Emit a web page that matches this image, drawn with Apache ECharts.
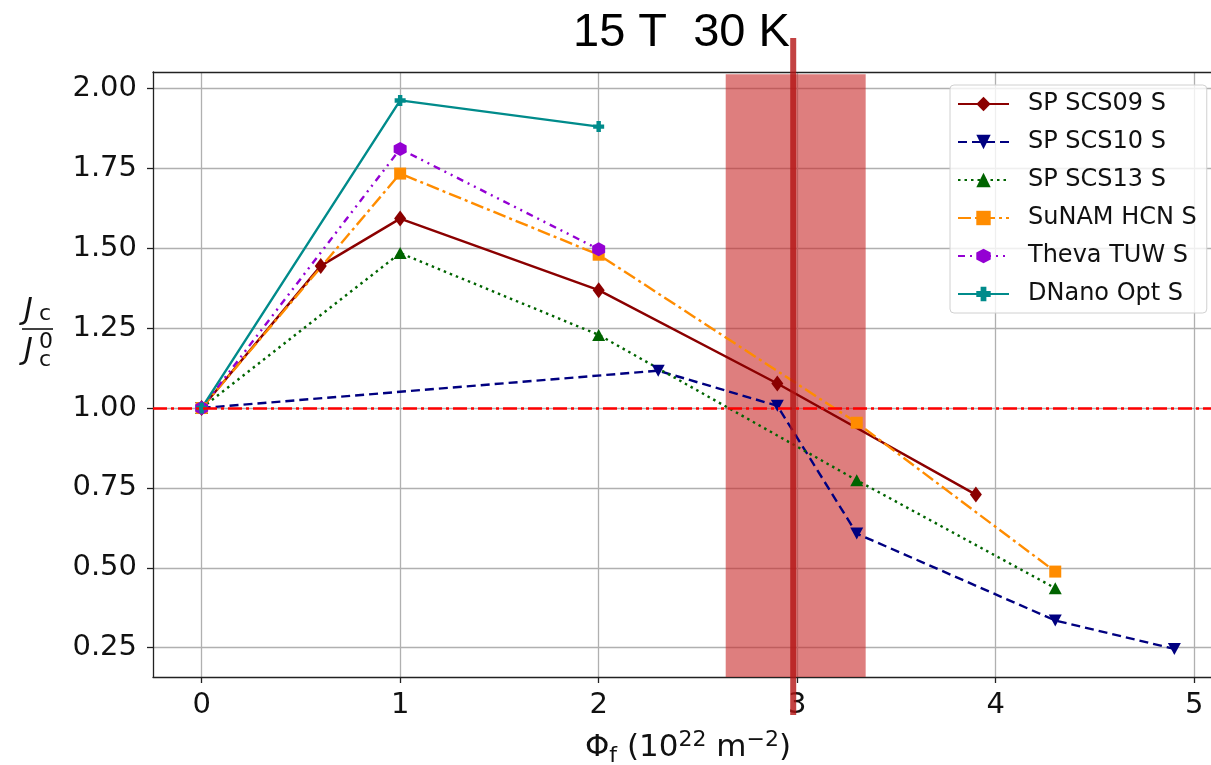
<!DOCTYPE html>
<html>
<head>
<meta charset="utf-8">
<script src="https://cdn.jsdelivr.net/npm/echarts@6/dist/echarts.min.js"></script>
<style>
  html, body { margin: 0; padding: 0; background: #fff; }
  #main { width: 1211px; height: 765px; }
</style>
</head>
<body>
<div id="main"></div>
<script>
// data
var scs09X = [0, 0.6, 1, 2, 2.9, 3.9];
var scs09Y = [1.00, 1.445, 1.593, 1.369, 1.077, 0.729];
var scs10X = [0, 2.3, 2.9, 3.3, 4.3, 4.9];
var scs10Y = [1.00, 1.117, 1.007, 0.607, 0.335, 0.246];
var scs13X = [0, 1, 2, 3.3, 4.3];
var scs13Y = [1.00, 1.485, 1.229, 0.774, 0.436];
var sunamX = [0, 1, 2, 3.3, 4.3];
var sunamY = [1.00, 1.734, 1.480, 0.954, 0.488];
var thevaX = [0, 1, 2];
var thevaY = [1.00, 1.811, 1.497];
var dnanoX = [0, 1, 2];
var dnanoY = [1.00, 1.963, 1.881];

var xTicks = [0, 1, 2, 3, 4, 5];
var yTicks = [0.25, 0.50, 0.75, 1.00, 1.25, 1.50, 1.75, 2.00];
var refLevel = 1.0;
var bandRange = [2.64, 3.345];
var markerX = 2.98;

var pairs = function(xs, ys) {
    var res = [];
    for (var i = 0; i < xs.length; i++) {
        res.push([xs[i], ys[i]]);
    }
    return res;
};

var FONT = 'DejaVu Sans';
var xMin = -0.245, xMax = 5.145;
var yMin = 0.158, yMax = 2.052;

var chart = echarts.init(document.getElementById('main'));

function mkSeries(name, xs, ys, color, type, symbol, size) {
    return {
        name: name,
        type: 'line',
        data: pairs(xs, ys),
        z: 3,
        symbol: symbol,
        symbolSize: size,
        showAllSymbol: true,
        lineStyle: { color: color, width: 2.4, type: type },
        itemStyle: { color: color },
        emphasis: { disabled: true },
        animation: false
    };
}

var spine = { show: true, onZero: false, lineStyle: { color: '#222', width: 1.3 } };

var option = {
    animation: false,
    title: {
        text: '15 T  30 K',
        left: 568,
        top: 5,
        textStyle: { fontFamily: 'Liberation Sans', fontSize: 47, fontWeight: 'normal', color: '#000' }
    },
    grid: {
        left: 153, top: 72, width: 1070, height: 605,
        outerBoundsMode: 'none'
    },
    legend: {
        left: 950, top: 85,
        orient: 'vertical',
        padding: [7, 10, 7, 7],
        itemWidth: 51, itemHeight: 18,
        itemGap: 14,
        backgroundColor: 'rgba(255,255,255,0.8)',
        borderColor: '#d0d0d0', borderWidth: 1, borderRadius: 4,
        textStyle: { fontFamily: FONT, fontSize: 24, color: '#111', lineHeight: 24, padding: [0, 0, 0, 14] },
        data: ['SP SCS09 S', 'SP SCS10 S', 'SP SCS13 S', 'SuNAM HCN S', 'Theva TUW S', 'DNano Opt S']
    },
    xAxis: [{
        type: 'value',
        position: 'bottom',
        min: xMin, max: xMax,
        name: '{a|Φ}{s|f}{a| (10}{p|22}{a| m}{p|−2}{a|)}',
        nameLocation: 'middle',
        nameGap: 52,
        nameTextStyle: {
            rich: {
                a: { fontFamily: FONT, fontSize: 31, color: '#111', lineHeight: 38 },
                s: { fontFamily: FONT, fontSize: 22, color: '#111', verticalAlign: 'bottom', lineHeight: 22 },
                p: { fontFamily: FONT, fontSize: 22, color: '#111', verticalAlign: 'top', lineHeight: 22 }
            }
        },
        axisLine: spine,
        axisTick: { show: true, length: 6, lineStyle: { color: '#222', width: 1.3 }, customValues: xTicks },
        axisLabel: {
            customValues: xTicks,
            margin: 14,
            fontFamily: FONT, fontSize: 29, color: '#111',
            formatter: function(v) { return String(v); }
        },
        splitLine: { show: true, lineStyle: { color: '#b0b0b0', width: 1.3 } }
    }, {
        type: 'value',
        position: 'top',
        min: xMin, max: xMax,
        axisLine: spine,
        axisTick: { show: false },
        axisLabel: { show: false },
        splitLine: { show: false }
    }],
    yAxis: {
        type: 'value',
        min: yMin, max: yMax,
        axisLine: spine,
        axisTick: { show: true, length: 6, lineStyle: { color: '#222', width: 1.3 }, customValues: yTicks },
        axisLabel: {
            customValues: yTicks,
            margin: 16,
            fontFamily: FONT, fontSize: 29, color: '#111',
            formatter: function(v) { return v.toFixed(2); }
        },
        splitLine: { show: true, lineStyle: { color: '#b0b0b0', width: 1.3 } }
    },
    graphic: [
        { id: 'jn', type: 'text', left: 24, top: 296, z: 10, style: { text: 'J', fontFamily: FONT, fontStyle: 'italic', fontSize: 30, fill: '#111' } },
        { id: 'jnc', type: 'text', left: 39, top: 303, z: 10, style: { text: 'c', fontFamily: FONT, fontSize: 22, fill: '#111' } },
        { id: 'bar', type: 'line', z: 10, shape: { x1: 22, y1: 329, x2: 53, y2: 329 }, style: { stroke: '#111', lineWidth: 1.6 } },
        { id: 'jd', type: 'text', left: 24, top: 336, z: 10, style: { text: 'J', fontFamily: FONT, fontStyle: 'italic', fontSize: 30, fill: '#111' } },
        { id: 'jd0', type: 'text', left: 39, top: 331, z: 10, style: { text: '0', fontFamily: FONT, fontSize: 22, fill: '#111' } },
        { id: 'jdc', type: 'text', left: 39, top: 349, z: 10, style: { text: 'c', fontFamily: FONT, fontSize: 22, fill: '#111' } }
    ],
    series: [
        mkSeries('SP SCS09 S', scs09X, scs09Y, '#8b0000', 'solid', 'diamond', [12, 16]),
        mkSeries('SP SCS10 S', scs10X, scs10Y, '#000080', [9, 5], 'path://M0,0 L10,0 L5,9 Z', [13, 12]),
        mkSeries('SP SCS13 S', scs13X, scs13Y, '#006400', [2.5, 4], 'triangle', [13, 12]),
        mkSeries('SuNAM HCN S', sunamX, sunamY, '#ff8c00', [13, 4, 3, 4], 'rect', [12, 12]),
        mkSeries('Theva TUW S', thevaX, thevaY, '#9400d3', [7, 5, 2, 5, 2, 5], 'path://M5,0 L9.33,2.5 L9.33,7.5 L5,10 L0.67,7.5 L0.67,2.5 Z', [13, 14]),
        mkSeries('DNano Opt S', dnanoX, dnanoY, '#008b8b', 'solid', 'path://M3,0 H7 V3 H10 V7 H7 V10 H3 V7 H0 V3 H3 Z', [11, 11]),
        {
            name: 'ref',
            type: 'line',
            data: [],
            z: 2,
            silent: true,
            markLine: {
                symbol: 'none',
                silent: true,
                label: { show: false },
                lineStyle: { color: '#ff0000', width: 2.5, type: [14, 4, 3, 4] },
                data: [{ yAxis: refLevel }]
            }
        },
        {
            name: 'band',
            type: 'line',
            data: [],
            z: 6,
            silent: true,
            markArea: {
                silent: true,
                itemStyle: { color: 'rgba(200,40,40,0.6)' },
                data: [[{ xAxis: bandRange[0], yAxis: yMin }, { xAxis: bandRange[1], yAxis: 2.045 }]]
            }
        }
    ]
};
chart.setOption(option);

// vertical marker line runs past the plot, so place it with the axis scale
var px = chart.convertToPixel({ xAxisIndex: 0 }, markerX);
chart.setOption({
    graphic: [
        { id: 'vline', type: 'line', z: 20, shape: { x1: px, y1: 38, x2: px, y2: 715 }, style: { stroke: 'rgba(180,20,20,0.8)', lineWidth: 6 } }
    ]
});
</script>
</body>
</html>
